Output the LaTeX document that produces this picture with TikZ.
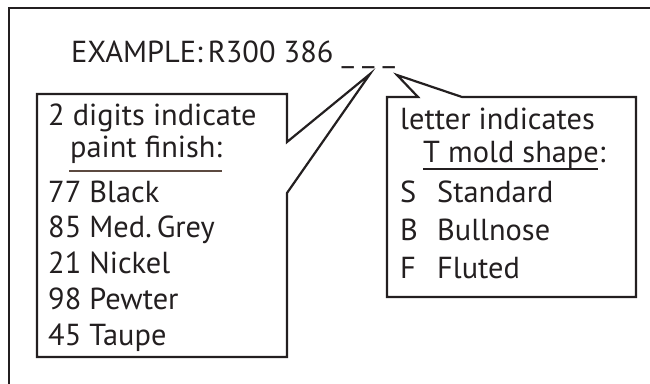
\documentclass[tikz,border=0pt]{standalone}
\usepackage{fontspec}
\setmainfont{PT Sans}
\definecolor{ink}{HTML}{231F20}
\definecolor{rule}{HTML}{5C4A40}
\usepackage{tikz}

\begin{document}
\begin{tikzpicture}[x=1bp,y=-1bp,every node/.style={font=\fontsize{30.5}{34}\selectfont,text=ink,inner sep=0pt,anchor=base west}]
\useasboundingbox (0,0) rectangle (650,383);
\clip (0,0) rectangle (650,383);
% outer frame (cut off at right and bottom)
\draw[ink,line width=2.2bp] (9,8) rectangle (670,400);
% callout outlines
\coordinate (tipL) at (370,74);
\coordinate (tipR) at (397,75);
\draw[ink,line width=2.2bp,line join=miter] (37,94) -- (287,94) -- (287,142) -- (tipL) -- (287,193) -- (287,357) -- (37,357) -- cycle;
\draw[ink,line width=2.2bp,line join=miter] (387,97) -- (418,97) -- (tipR) -- (462,97) -- (636,97) -- (636,297) -- (387,297) -- cycle;
% heading
\node (ex) at (71,62) {EXAMPLE:\,R300 386 \_ \_ \_};
% left box
\node (dig) at (48,125) {2 digits indicate};
\node (fin) at (70,157) {paint finish:};
\node (c77) at (48,202) {77 Black};
\node (c85) at (48,237) {85 Med.\,Grey};
\node (c21) at (48,273) {21 Nickel};
\node (c98) at (48,309) {98 Pewter};
\node (c45) at (48,345) {45 Taupe};
\draw[rule,line width=1.4bp] (69,171) -- (222,171);
% right box
\node (let) at (400,129) {letter indicates};
\node (mold) at (423,162) {T mold shape:};
\node (s) at (400,202) {S}; \node (std) at (437,202) {Standard};
\node (b) at (400,240) {B}; \node (bul) at (437,240) {Bullnose};
\node (f) at (400,278) {F}; \node (flu) at (437,278) {Fluted};
\draw[ink,line width=1.4bp] (423,169) -- (598,169);
\end{tikzpicture}
\end{document}
